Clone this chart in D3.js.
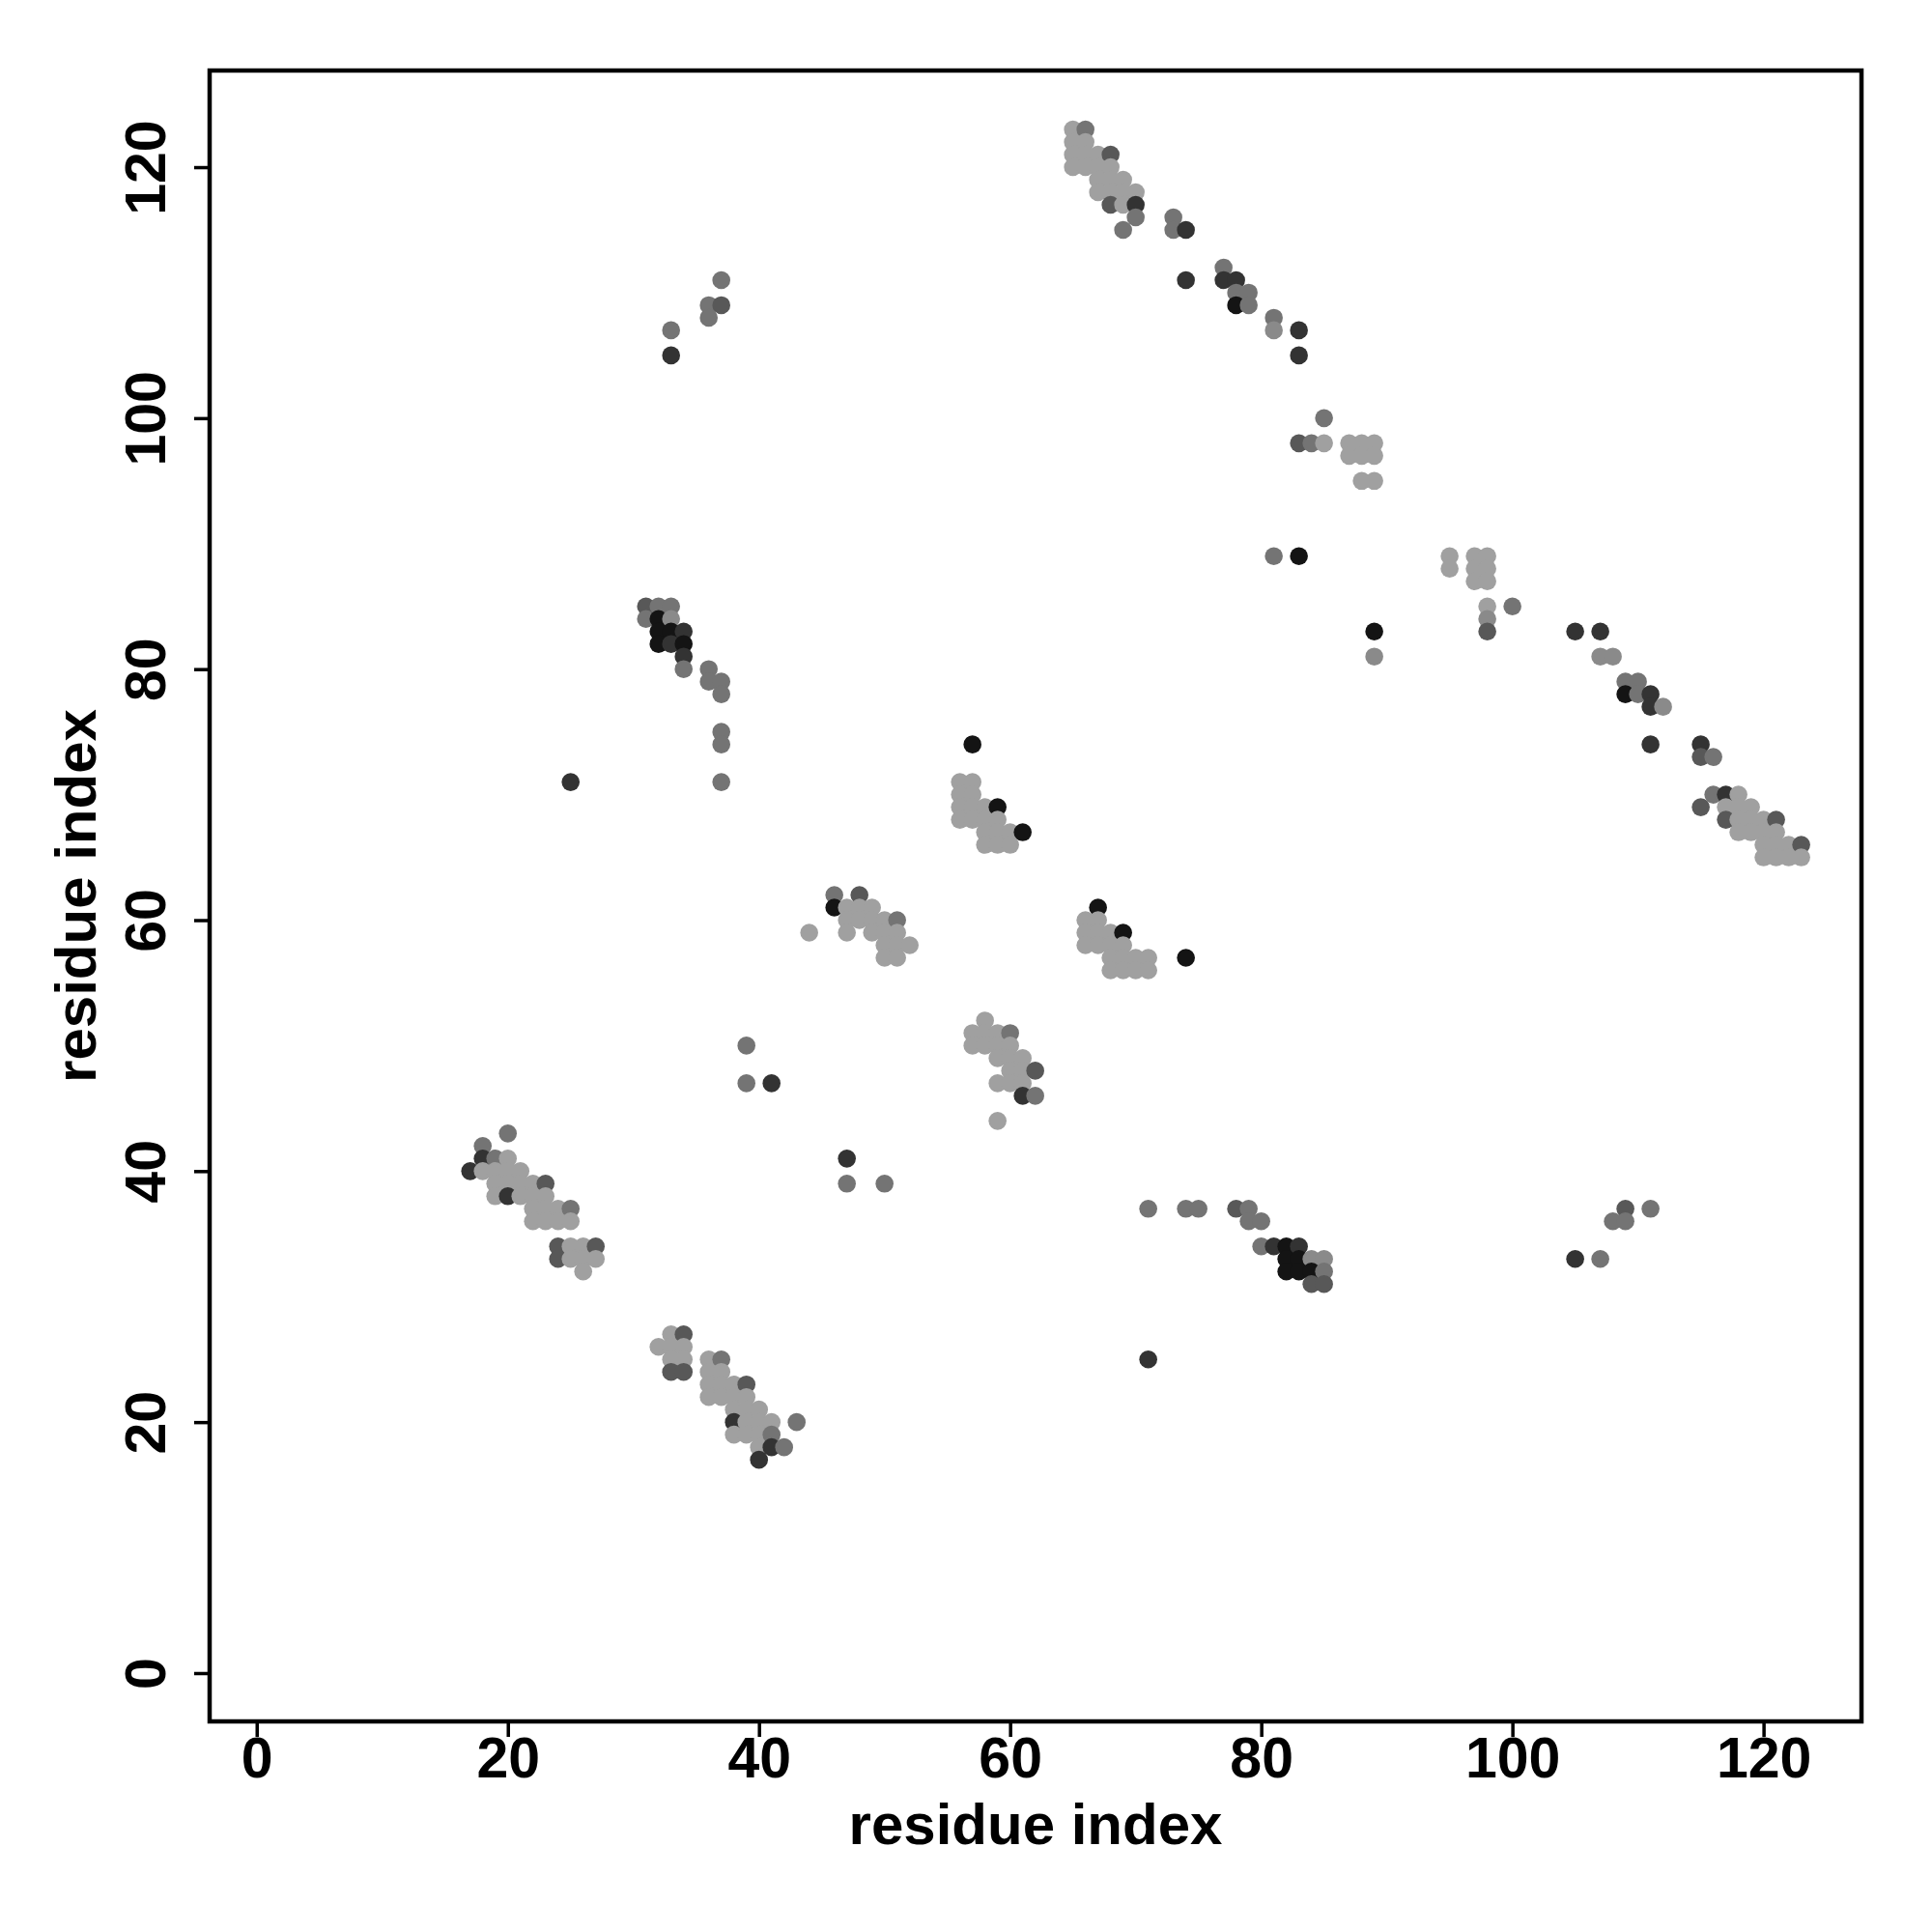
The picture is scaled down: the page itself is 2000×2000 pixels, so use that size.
<!DOCTYPE html>
<html><head><meta charset="utf-8">
<script src="https://cdn.jsdelivr.net/npm/d3@7"></script>
<style>body{margin:0;background:#fff}</style>
</head><body>
<svg id="chart" width="2000" height="2000"></svg>
<script>
// contacts: [residue i, residue j, strength level 1 (weak, light) .. 6 (strong, black)]
const helixTopRight = [
 [65,123,1],[66,123,3],[65,122,1],[66,122,1],
 [65,121,1],[66,121,1],[67,121,1],[68,121,4],
 [65,120,1],[66,120,1],[67,120,1],[68,120,1],
 [67,119,1],[68,119,1],[69,119,1],
 [67,118,1],[68,118,1],[69,118,1],[70,118,1],
 [68,117,4],[69,117,1],[70,117,5],
 [70,116,3],[73,116,3],[69,115,3],[73,115,3],[74,115,5],
 [77,112,3],[74,111,5],[77,111,5],[78,111,5],
 [78,110,3],[79,110,3],[78,109,6],[79,109,3],
 [81,108,3],[81,107,2],[83,107,5],[83,105,5],
 [85,100,3],[83,98,4],[84,98,3],[85,98,1],[87,98,1],[88,98,1],[89,98,1],
 [87,97,1],[88,97,1],[89,97,1],[88,95,1],[89,95,1]
];
const clusterMidRight = [
 [81,89,3],[83,89,6],[95,89,1],[95,88,1],
 [97,89,1],[98,89,1],[97,88,1],[98,88,1],[97,87,1],[98,87,1],
 [98,85,1],[100,85,3],[98,84,2],[98,83,4],[89,83,6],[89,81,2]
];
const helixRight = [
 [105,83,5],[107,83,5],[107,81,2],[108,81,2],
 [109,79,3],[110,79,3],[109,78,6],[110,78,3],[111,78,5],
 [111,77,5],[112,77,2],[111,74,5],
 [115,74,5],[115,73,4],[116,73,3],
 [116,70,3],[117,70,5],[118,70,1],
 [115,69,4],[117,69,1],[118,69,1],[119,69,1],
 [117,68,4],[118,68,1],[119,68,1],[120,68,1],[121,68,4],
 [118,67,1],[119,67,1],[120,67,1],[121,67,1],
 [120,66,1],[121,66,1],[122,66,1],[123,66,4],
 [120,65,1],[121,65,1],[122,65,1],[123,65,1]
];
const clusterUpperLeft = [
 [37,111,3],[36,109,3],[37,109,4],[36,108,3],[33,107,3],[33,105,5],
 [31,85,4],[32,85,3],[33,85,3],
 [31,84,3],[32,84,6],[33,84,2],
 [32,83,6],[33,83,6],[34,83,5],
 [32,82,6],[33,82,5],[34,82,6],
 [34,81,5],[34,80,3],
 [36,80,3],[36,79,3],[37,79,3],[37,78,3],
 [37,75,3],[37,74,3],[37,71,3],[25,71,5]
];
const clusterLowerLeft = [
 [20,43,3],[18,42,3],[18,41,5],[19,41,3],[20,41,1],
 [17,40,5],[18,40,1],[19,40,1],[20,40,1],[21,40,1],
 [19,39,1],[20,39,1],[21,39,1],[22,39,1],[23,39,4],
 [19,38,1],[20,38,5],[21,38,1],[22,38,1],[23,38,1],
 [22,37,1],[23,37,1],[24,37,1],[25,37,3],
 [22,36,1],[23,36,1],[24,36,1],[25,36,1],
 [24,34,4],[25,34,1],[26,34,1],[27,34,4],
 [24,33,4],[25,33,1],[26,33,1],[27,33,1],
 [26,32,1]
];
const clusterBottom = [
 [32,26,1],[33,27,1],[34,27,4],
 [33,26,1],[34,26,1],[33,25,1],[34,25,1],[33,24,4],[34,24,4],
 [36,25,1],[37,25,3],[36,24,1],[37,24,1],
 [36,23,1],[37,23,1],[38,23,1],[39,23,4],
 [36,22,1],[37,22,1],[38,22,1],[39,22,1],
 [38,21,1],[39,21,1],[40,21,1],
 [38,20,5],[39,20,1],[40,20,1],[41,20,1],[43,20,3],
 [38,19,1],[39,19,1],[40,19,1],[41,19,3],
 [40,18,1],[41,18,5],[42,18,3],[40,17,5]
];
const clusterCenter = [
 [57,74,6],
 [56,71,1],[57,71,1],[56,70,1],[57,70,1],
 [56,69,1],[57,69,1],[58,69,1],[59,69,6],
 [56,68,1],[57,68,1],[58,68,1],[59,68,1],
 [58,67,1],[59,67,1],[60,67,1],[61,67,6],
 [58,66,1],[59,66,1],[60,66,1],
 [46,62,3],[48,62,4],
 [46,61,6],[47,61,1],[48,61,1],[49,61,1],
 [47,60,1],[48,60,1],[49,60,1],[50,60,1],[51,60,3],
 [44,59,1],[47,59,1],[49,59,1],[50,59,1],[51,59,1],
 [50,58,1],[51,58,1],[52,58,1],[50,57,1],[51,57,1],
 [58,52,1],[57,51,1],[58,51,1],[59,51,1],[60,51,3],
 [57,50,1],[58,50,1],[59,50,1],[60,50,1],
 [59,49,1],[60,49,1],[61,49,1],
 [60,48,1],[61,48,1],[62,48,4],
 [59,47,1],[60,47,1],[61,47,1],
 [61,46,5],[62,46,3],[59,44,1],
 [39,50,3],[39,47,3],[41,47,5],[47,41,5],[47,39,3],[50,39,3]
];
const clusterLowerMid = [
 [67,61,6],[66,60,1],[67,60,1],
 [66,59,1],[67,59,1],[68,59,1],[69,59,6],
 [66,58,1],[67,58,1],[68,58,1],[69,58,1],
 [68,57,1],[69,57,1],[70,57,1],[71,57,1],
 [68,56,1],[69,56,1],[70,56,1],[71,56,1],[74,57,6],
 [71,37,3],[74,37,3],[75,37,3],[78,37,4],[79,37,3],
 [79,36,3],[80,36,3],
 [80,34,3],[81,34,5],[82,34,6],[83,34,5],
 [82,33,6],[83,33,6],[84,33,2],[85,33,2],
 [82,32,6],[83,32,6],[84,32,6],[85,32,3],
 [84,31,4],[85,31,4],[71,25,5]
];
const clusterLowerRight = [
 [109,37,4],[111,37,3],[108,36,3],[109,36,3],[105,33,5],[107,33,3]
];
const tickValues = [0,20,40,60,80,100,120];
const axisTitle = "residue index";

const contacts = [].concat(helixTopRight, clusterMidRight, helixRight, clusterUpperLeft,
  clusterLowerLeft, clusterBottom, clusterCenter, clusterLowerMid, clusterLowerRight);

const svg = d3.select("#chart");
const L = 217, R = 1927, T = 73, B = 1782;
const x = d3.scaleLinear().domain([-3.75, 127.8]).range([L, R]);
const y = d3.scaleLinear().domain([-3.85, 127.7]).range([B, T]);
const grey = d3.scaleOrdinal().domain([1,2,3,4,5,6])
  .range(["#a0a0a0","#8a8a8a","#747474","#585858","#333333","#141414"]);

svg.append("g").selectAll("circle").data(contacts).join("circle")
  .attr("cx", d => x(d[0])).attr("cy", d => y(d[1]))
  .attr("r", 9.3).attr("fill", d => grey(d[2]));

const font = "'Liberation Sans', Arial, Helvetica, sans-serif";
const xAxis = svg.append("g").attr("transform", `translate(0,${B})`)
  .call(d3.axisBottom(x).tickValues(tickValues).tickSize(16).tickPadding(10));
const yAxis = svg.append("g").attr("transform", `translate(${L},0)`)
  .call(d3.axisLeft(y).tickValues(tickValues).tickSize(16).tickPadding(10));
[xAxis, yAxis].forEach(g => {
  g.select(".domain").remove();
  g.selectAll(".tick line").attr("stroke", "#000").attr("stroke-width", 3.5);
  g.selectAll("text").attr("font-family", font).attr("font-weight", "bold")
    .attr("font-size", 59).attr("fill", "#000");
});
xAxis.selectAll(".tick text")
  .attr("y", null).attr("dy", null)
  .attr("dominant-baseline", "central")
  .attr("transform", "translate(0,38)");
yAxis.selectAll(".tick text")
  .each(function(d){
    d3.select(this).attr("x", null).attr("dy", null)
     .attr("text-anchor", "middle")
     .attr("transform", `translate(-46,0) rotate(-90)`);
  });

svg.append("rect").attr("x", L).attr("y", T).attr("width", R - L).attr("height", B - T)
  .attr("fill", "none").attr("stroke", "#000").attr("stroke-width", 4.5);

svg.append("text").attr("x", (L + R) / 2).attr("y", 1909)
  .attr("text-anchor", "middle").attr("font-family", font).attr("font-weight", "bold")
  .attr("font-size", 60).text(axisTitle);
svg.append("text").attr("transform", `translate(99,${(T + B) / 2}) rotate(-90)`)
  .attr("text-anchor", "middle").attr("font-family", font).attr("font-weight", "bold")
  .attr("font-size", 60).text(axisTitle);
</script>
</body></html>
